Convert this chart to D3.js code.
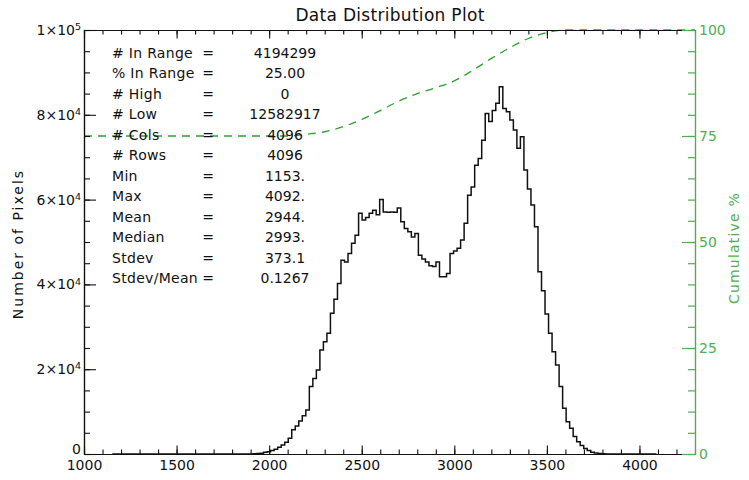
<!DOCTYPE html>
<html>
<head>
<meta charset="utf-8">
<script src="https://cdn.jsdelivr.net/npm/d3@7"></script>
<style>
  body { margin: 0; background: #fff; }
  text { font-family: "DejaVu Sans", sans-serif; }
</style>
</head>
<body>
<div id="chart"></div>
<script>
// Data Distribution Plot (IDL style histogram + cumulative %)

const width = 749;
const height = 480;
const margin = {left: 84, right: 54, top: 30, bottom: 26};
const green = "#4fae4f";
const dashGreen = "#2f9f2f";

// histogram: bins of 19 DN starting at the data min (1153)
const binWidth = 19;
const histMin = 1153;
const histMax = 4092;
const firstBinStart = 1837;
const binCounts = [
  0, 0, 0, 20, 50, 120, 200, 400, 550, 800,
  1100, 1600, 2100, 2800, 3700, 5700, 6600, 7800, 9000, 10400,
  15900, 17800, 19800, 24500, 26500, 28500, 33200, 36500, 40200, 45700,
  45300, 47300, 49700, 51600, 56800, 55200, 55800, 56800, 57500, 56400,
  60000, 57100, 57000, 57100, 57000, 58000, 54800, 53200, 52400, 51200,
  52000, 46900, 46000, 45300, 44400, 44200, 45300, 41800, 41800, 42600,
  47300, 47900, 48500, 50500, 54400, 61000, 63000, 68100, 69700, 74000,
  80300, 78400, 81000, 82700, 86600, 81500, 80700, 78800, 76400, 72100,
  74800, 67000, 62500, 58700, 53600, 43000, 38500, 33000, 28500, 24100,
  21000, 15900, 10800, 7600, 6100, 4100, 2900, 2000, 1300, 800,
  400, 250, 100, 30, 0
];

// cumulative % (includes the 75% of pixels below range)
const cumX   = [1000, 2100, 2200, 2300, 2400, 2500, 2600, 2700, 2800, 2900, 3000, 3100, 3200, 3300, 3400, 3500, 3600, 4300];
const cumPct = [75, 75, 75.4, 76.0, 77.2, 78.9, 81.0, 83.2, 85.0, 86.4, 88.0, 90.5, 93.3, 95.8, 98.0, 99.4, 100, 100];

// tick labels
const xMajor = [1000, 1500, 2000, 2500, 3000, 3500, 4000];
const yMajor = [0, 20000, 40000, 60000, 80000, 100000];
const yTickLabels = [["0", ""], ["2×10", "4"], ["4×10", "4"], ["6×10", "4"], ["8×10", "4"], ["1×10", "5"]];
const rMajor = [0, 25, 50, 75, 100];

// stats block
const statNames  = ["# In Range", "% In Range", "# High", "# Low", "# Cols", "# Rows",
                    "Min", "Max", "Mean", "Median", "Stdev", "Stdev/Mean"];
const statValues = ["4194299", "25.00", "0", "12582917", "4096", "4096",
                    "1153.", "4092.", "2944.", "2993.", "373.1", "0.1267"];

const svg = d3.select("#chart")
  .append("svg")
  .attr("width", width)
  .attr("height", height);

const x = d3.scaleLinear()
  .domain([1000, 4300])
  .range([margin.left, width - margin.right]);

const y = d3.scaleLinear()
  .domain([0, 100000])
  .range([height - margin.bottom, margin.top]);

const yR = d3.scaleLinear()
  .domain([0, 100])
  .range([height - margin.bottom, margin.top]);

const x0 = margin.left, x1 = width - margin.right;
const y0 = height - margin.bottom, y1 = margin.top;

// histogram line (step style)
let histPts = [[histMin, 0]];
binCounts.forEach((c, i) => histPts.push([firstBinStart + i * binWidth, c]));
histPts.push([histMax, 0]);

svg.append("path")
  .datum(histPts)
  .attr("fill", "none")
  .attr("stroke", "#111")
  .attr("stroke-width", 1.5)
  .attr("d", d3.line()
    .x(d => x(d[0]))
    .y(d => y(d[1]))
    .curve(d3.curveStepAfter));

// cumulative curve
svg.append("path")
  .datum(cumX.map((v, i) => [v, cumPct[i]]))
  .attr("fill", "none")
  .attr("stroke", dashGreen)
  .attr("stroke-width", 1.3)
  .attr("stroke-dasharray", "8,6")
  .attr("d", d3.line()
    .x(d => x(d[0]))
    .y(d => yR(d[1]))
    .curve(d3.curveMonotoneX));

/*  Axes  */

// bottom
const gx = svg.append("g")
  .attr("transform", `translate(0,${y0})`)
  .call(d3.axisBottom(x).tickValues(xMajor).tickSize(-8.5).tickSizeOuter(0).tickPadding(6)
        .tickFormat(d3.format("d")));
gx.selectAll(".tick text").attr("font-size", "14px").attr("font-family", "DejaVu Sans").attr("fill", "#111");
svg.append("g")
  .attr("transform", `translate(0,${y0})`)
  .call(d3.axisBottom(x).tickValues(d3.range(1000, 4301, 100)).tickSize(-4.5).tickSizeOuter(0).tickFormat(""));

// top
svg.append("g")
  .attr("transform", `translate(0,${y1})`)
  .call(d3.axisTop(x).tickValues(xMajor).tickSize(-8.5).tickSizeOuter(0).tickFormat(""));
svg.append("g")
  .attr("transform", `translate(0,${y1})`)
  .call(d3.axisTop(x).tickValues(d3.range(1000, 4301, 100)).tickSize(-4.5).tickSizeOuter(0).tickFormat(""));

// left
const gy = svg.append("g")
  .attr("transform", `translate(${x0},0)`)
  .call(d3.axisLeft(y).tickValues(yMajor).tickSize(-12).tickSizeOuter(0).tickPadding(3));
gy.selectAll(".tick text")
  .attr("font-size", "14px").attr("font-family", "DejaVu Sans").attr("fill", "#111")
  .each(function(d, i) {
    const t = d3.select(this).text(null);
    t.append("tspan").text(yTickLabels[i][0]);
    if (yTickLabels[i][1]) {
      t.append("tspan").attr("dy", "-0.5em").attr("font-size", "9.5px").text(yTickLabels[i][1]);
    } else {
      // the zero label sits a little above the x axis line
      t.attr("y", -5);
    }
  });
svg.append("g")
  .attr("transform", `translate(${x0},0)`)
  .call(d3.axisLeft(y).tickValues(d3.range(0, 100001, 5000)).tickSize(-6).tickSizeOuter(0).tickFormat(""));

svg.selectAll("g .domain").attr("stroke", "#111").attr("stroke-width", 1.2);
svg.selectAll("g .tick line").attr("stroke", "#111").attr("stroke-width", 1.1);

// right (green)
const gr = svg.append("g")
  .attr("transform", `translate(${x1},0)`)
  .call(d3.axisRight(yR).tickValues(rMajor).tickSize(-13).tickSizeOuter(0).tickPadding(4));
svg.append("g")
  .attr("class", "rminor")
  .attr("transform", `translate(${x1},0)`)
  .call(d3.axisRight(yR).tickValues(d3.range(0, 101, 5)).tickSize(-7).tickSizeOuter(0).tickFormat(""));
gr.selectAll(".tick text").attr("font-size", "14px").attr("font-family", "DejaVu Sans").attr("fill", green);
gr.selectAll(".domain, .tick line").attr("stroke", green).attr("stroke-width", 1.2);
svg.selectAll(".rminor .domain, .rminor .tick line").attr("stroke", green).attr("stroke-width", 1.2);

/*  Titles  */

svg.append("text")
  .attr("x", 390)
  .attr("y", 21)
  .attr("text-anchor", "middle")
  .attr("font-size", "17px")
  .attr("letter-spacing", "0.3px")
  .attr("fill", "#111")
  .text("Data Distribution Plot");

svg.append("text")
  .attr("transform", "translate(23,244) rotate(-90)")
  .attr("text-anchor", "middle")
  .attr("font-size", "14px")
  .attr("letter-spacing", "2px")
  .attr("fill", "#111")
  .text("Number of Pixels");

svg.append("text")
  .attr("transform", "translate(739,248) rotate(-90)")
  .attr("text-anchor", "middle")
  .attr("font-size", "14px")
  .attr("letter-spacing", "1.2px")
  .attr("fill", green)
  .text("Cumulative %");

/*  Stats block  */

const stats = svg.append("g").attr("font-size", "14px").attr("fill", "#111");
statNames.forEach((name, i) => {
  const by = 58 + i * 20.45;
  stats.append("text").attr("x", 112).attr("y", by).attr("letter-spacing", "0.3px").text(name);
  stats.append("text").attr("x", 208).attr("y", by).attr("text-anchor", "middle").text("=");
  stats.append("text").attr("x", 285).attr("y", by).attr("text-anchor", "middle").text(statValues[i]);
});
</script>
</body>
</html>
